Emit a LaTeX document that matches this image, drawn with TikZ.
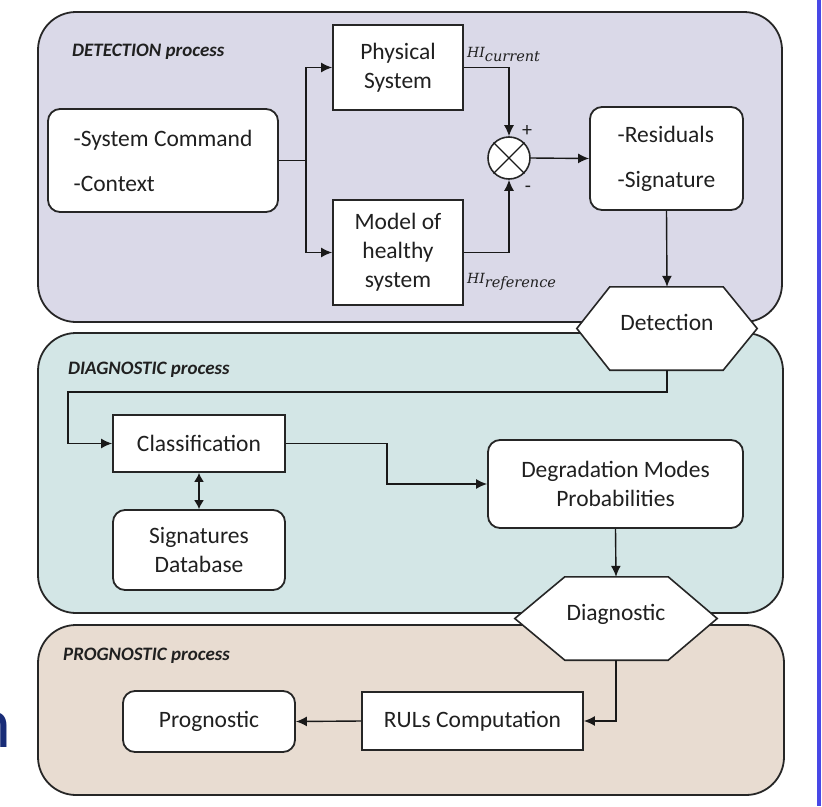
\documentclass[tikz,border=0pt]{standalone}
\usepackage{fontspec}
\setmainfont{Carlito}
\newfontfamily\hiserif{DejaVu Serif}
\usetikzlibrary{arrows.meta}
\pgfdeclarelayer{background}
\pgfdeclarelayer{middle}
\pgfsetlayers{background,middle,main}
\definecolor{detfill}{RGB}{218,217,232}
\definecolor{diafill}{RGB}{211,230,230}
\definecolor{profill}{RGB}{232,220,209}
\definecolor{txt}{RGB}{32,32,32}
\definecolor{navy}{RGB}{25,45,120}
\definecolor{blueline}{RGB}{72,72,230}
\tikzset{
  region/.style={draw=black!85, line width=1.8pt, rounded corners=38pt},
  sqbox/.style={draw=black!85, fill=white, line width=1.8pt, font=\fontsize{23.5}{29}\selectfont, text=txt, align=center, inner sep=0pt},
  rbox/.style={sqbox, rounded corners=12pt},
  conn/.style={line width=1.4pt, draw=black!90},
  arr/.style={conn, -{Latex[length=11pt,width=10pt]}},
  darr/.style={conn, {Latex[length=9pt,width=10pt]}-{Latex[length=9pt,width=10pt]}},
  hexlabel/.style={font=\fontsize{23.5}{29}\selectfont, text=txt, text height=16pt, text depth=12pt, inner sep=0pt},
  hexline/.style={draw=black!85, fill=white, line width=1.6pt},
  plabel/.style={font=\fontsize{19}{21}\selectfont\bfseries\itshape, text=txt, anchor=base west, inner sep=0pt},
  hilabel/.style={font=\hiserif\itshape\fontsize{14}{16}\selectfont, text=txt, anchor=base west, inner sep=0pt},
  sign/.style={font=\fontsize{20}{20}\selectfont, text=txt, inner sep=0pt},
}
\newcommand{\hisub}[1]{\raisebox{-4pt}{\fontsize{14.5}{16}\selectfont #1}}
\begin{document}
\begin{tikzpicture}[x=1pt,y=-1pt]
\useasboundingbox (0,0) rectangle (822,806);

% regions
\begin{pgfonlayer}{background}
\draw[region, fill=detfill] (38,12) rectangle (782,322);
\draw[region, fill=diafill] (38,333) rectangle (783,613);
\draw[region, fill=profill] (38,625) rectangle (784,795);
\end{pgfonlayer}

\node[plabel] (ldet) at (72,56) {DETECTION process};
\node[plabel] (ldia) at (68,374) {DIAGNOSTIC process};
\node[plabel] (lpro) at (63,660) {PROGNOSTIC process};

% detection nodes
\node[rbox, minimum width=230pt, minimum height=103pt, align=left] (sys) at (163,160.5) {-System Command\\[16pt]-Context};
\node[sqbox, minimum width=130pt, minimum height=85pt] (phys) at (398,67.5) {Physical\\System};
\node[sqbox, minimum width=130pt, minimum height=105pt] (model) at (398,252.5) {Model of\\healthy\\system};
\node[draw=black!85, fill=white, line width=1.6pt, circle, minimum size=42pt, inner sep=0pt] (mult) at (509,158) {};
\draw[line width=1.4pt, black!90] (mult.north west) -- (mult.south east) (mult.north east) -- (mult.south west);
\node[sign] (plus) at (527,131) {+};
\node[sign] (minus) at (528,189) {-};
\node[hilabel] (hicur) at (467,57) {HI\hisub{current}};
\node[hilabel] (hiref) at (467,283) {HI\hisub{reference}};
\node[rbox, minimum width=153pt, minimum height=103pt, align=left] (res) at (666.5,158.5) {-Residuals\\[16pt]-Signature};

\node[hexlabel, minimum width=180pt, minimum height=83pt] (det) at (667,328.5) {Detection};
\begin{pgfonlayer}{middle}
\draw[hexline] (det.west) -- ([xshift=33pt]det.north west) -- ([xshift=-34pt]det.north east) -- (det.east) -- ([xshift=-34pt]det.south east) -- ([xshift=33pt]det.south west) -- cycle;
\end{pgfonlayer}

\coordinate (split) at (306,160.5);
\draw[conn] (sys.east) -- (split);
\draw[arr] (split) |- (phys.west);
\draw[arr] (split) |- (model.west);
\draw[arr] (phys.east) -| (mult.north);
\draw[arr] (model.east) -| (mult.south);
\draw[arr] (mult.east) -- (res.west);
\draw[arr] (res.south) -- (det.north);

% diagnostic nodes
\node[sqbox, minimum width=172pt, minimum height=57pt] (cls) at (199,443.5) {Classification};
\node[rbox, minimum width=172pt, minimum height=80pt] (sig) at (199,550) {Signatures\\Database};
\node[rbox, minimum width=255pt, minimum height=88pt] (deg) at (615.5,484) {Degradation Modes\\Probabilities};
\node[hexlabel, minimum width=202pt, minimum height=83pt] (diag) at (616,618.5) {Diagnostic};
\begin{pgfonlayer}{middle}
\draw[hexline] (diag.west) -- ([xshift=50pt]diag.north west) -- ([xshift=-49pt]diag.north east) -- (diag.east) -- ([xshift=-49pt]diag.south east) -- ([xshift=50pt]diag.south west) -- cycle;
\end{pgfonlayer}

\coordinate (k1) at (68,392);
\coordinate (k2) at (387,460);
\draw[arr] (det.south) |- (k1) |- (cls.west);
\draw[darr] (cls.south) -- (sig.north);
\draw[arr] (cls.east) -| (k2) |- (deg.west);
\draw[arr] (deg.south) -- (diag.north);

% prognostic nodes
\node[sqbox, minimum width=221pt, minimum height=58pt] (rul) at (472.5,721) {RULs Computation};
\node[rbox, minimum width=172pt, minimum height=61pt] (prog) at (209,721.5) {Prognostic};
\draw[arr] (diag.south) |- (rul.east);
\draw[arr] (rul.west) -- (prog.east);

% slide fragments
\node[font=\fontsize{72}{72}\selectfont, text=navy, anchor=base east, inner sep=0pt] (nfrag) at (12,747) {n};
\draw[line width=3.5pt, blueline] (819,0) -- (819,806);
\end{tikzpicture}
\end{document}
